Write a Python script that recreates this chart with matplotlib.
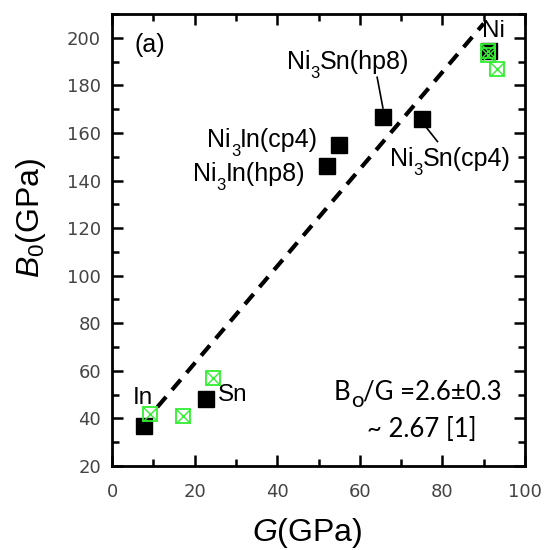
import matplotlib
matplotlib.use("Agg")
import matplotlib.pyplot as plt
from matplotlib.ticker import MultipleLocator

plt.rcParams['font.family'] = ['Liberation Sans', 'DejaVu Sans']
plt.rcParams['mathtext.fontset'] = 'custom'
plt.rcParams['mathtext.rm'] = 'Liberation Sans'
plt.rcParams['mathtext.it'] = 'Liberation Sans:italic'

# Calculated (black squares)
calc_names = ["In", "Sn", "Ni3In(hp8)", "Ni3In(cp4)", "Ni3Sn(hp8)", "Ni3Sn(cp4)", "Ni"]
calc_G = [7.7, 22.8, 52.0, 55.0, 65.6, 75.0, 91.3]
calc_B = [37.0, 48.0, 146.0, 155.0, 166.5, 166.0, 194.3]

# Experimental (green crossed squares)
exp_G = [9.2, 17.2, 24.5, 91.0, 91.0, 93.2]
exp_B = [41.8, 41.0, 57.0, 194.5, 192.6, 187.0]

# Fitted dashed line endpoints
fit_G = [11.0, 90.0]
fit_B = [44.8, 206.0]

fig = plt.figure(figsize=(5.44, 5.5), dpi=100)
ax = fig.add_axes([112/544, 1-466/550, (525-112)/544, (466-14)/550])

ax.plot(fit_G, fit_B, ls=(0, (3.2, 2.2)), color='black', lw=3, zorder=2)
ax.plot(calc_G, calc_B, 's', color='black', ms=11, zorder=3)
ax.plot(exp_G, exp_B, 's', mfc='none', mec='#33ee33', mew=1.3, ms=10.5, zorder=4)
ax.plot(exp_G, exp_B, 'x', color='#33ee33', mew=1.0, ms=10.5, zorder=4)

ax.set_xlim(0, 100)
ax.set_ylim(20, 210)
ax.xaxis.set_major_locator(MultipleLocator(20))
ax.xaxis.set_minor_locator(MultipleLocator(10))
ax.yaxis.set_major_locator(MultipleLocator(20))
ax.yaxis.set_minor_locator(MultipleLocator(10))
ax.tick_params(which='both', direction='in', top=True, right=True, width=1.8,
               labelsize=13, labelcolor='#444444', pad=8)
ax.tick_params(axis='x', which='both', pad=12)
ax.tick_params(which='major', length=8)
ax.tick_params(which='minor', length=5)
for lab in ax.get_xticklabels() + ax.get_yticklabels():
    lab.set_family('DejaVu Sans')
for s in ax.spines.values():
    s.set_linewidth(2)

fig.text(307/544, 1-533/550, r'$G$(GPa)', fontsize=23, ha='center', va='center')
fig.text(31/544, 1-218/550, r'$B_\mathregular{0}$(GPa)', fontsize=23, ha='center', va='center',
         rotation=90)

renderer = fig.canvas.get_renderer()


def piece_text(x, y, parts, fs, subfs, drop_px, ha='left', family=None):
    """Draw text made of normal and lowered subscript pieces, baseline at data (x, y)."""
    kw = {}
    if family:
        kw['family'] = family
    arts = []
    cur = 0.0
    for s, is_sub in parts:
        t = fig.text(0, 0, s, fontsize=subfs if is_sub else fs, ha='left', va='baseline',
                     transform=None, **kw)
        w = t.get_window_extent(renderer).width
        arts.append((t, cur, is_sub))
        cur += w
    x0, y0 = ax.transData.transform((x, y))
    if ha == 'center':
        x0 -= cur / 2
    elif ha == 'right':
        x0 -= cur
    for t, off, is_sub in arts:
        t.set_position((x0 + off, y0 - (drop_px if is_sub else 0)))


lfs = 18
sfs = 12
drop = 9
piece_text(42.4, 186.7, [('Ni', 0), ('3', 1), ('Sn(hp8)', 0)], lfs, sfs, drop)
ax.plot([64.2, 65.6], [183.4, 170.5], color='black', lw=1.2)
piece_text(67.3, 145.9, [('Ni', 0), ('3', 1), ('Sn(cp4)', 0)], lfs, sfs, drop)
ax.plot([75.8, 78.8], [163.0, 156.4], color='black', lw=1.2)
piece_text(49.9, 153.9, [('Ni', 0), ('3', 1), ('In(cp4)', 0)], lfs, sfs, drop, ha='right')
piece_text(46.7, 139.6, [('Ni', 0), ('3', 1), ('In(hp8)', 0)], lfs, sfs, drop, ha='right')

ax.text(9.2, 197, '(a)', fontsize=18, ha='center', va='center')
ax.text(92.3, 203, 'Ni', fontsize=17.5, ha='center', va='center')
ax.text(7.5, 48.6, 'In', fontsize=17.5, ha='center', va='center')
ax.text(25.7, 50.0, 'Sn', fontsize=17.5, ha='left', va='center')

piece_text(94.4, 47.8, [('B', 0), ('o', 1), ('/G =2.6\u00b10.3', 0)], 18.5, 16, 7,
           ha='right', family=['Lato', 'DejaVu Sans'])
piece_text(61.7, 32.2, [('~ 2.67 [1]', 0)], 18.5, 17, 0, family=['Lato', 'DejaVu Sans'])

fig.savefig('out.png', dpi=100)
